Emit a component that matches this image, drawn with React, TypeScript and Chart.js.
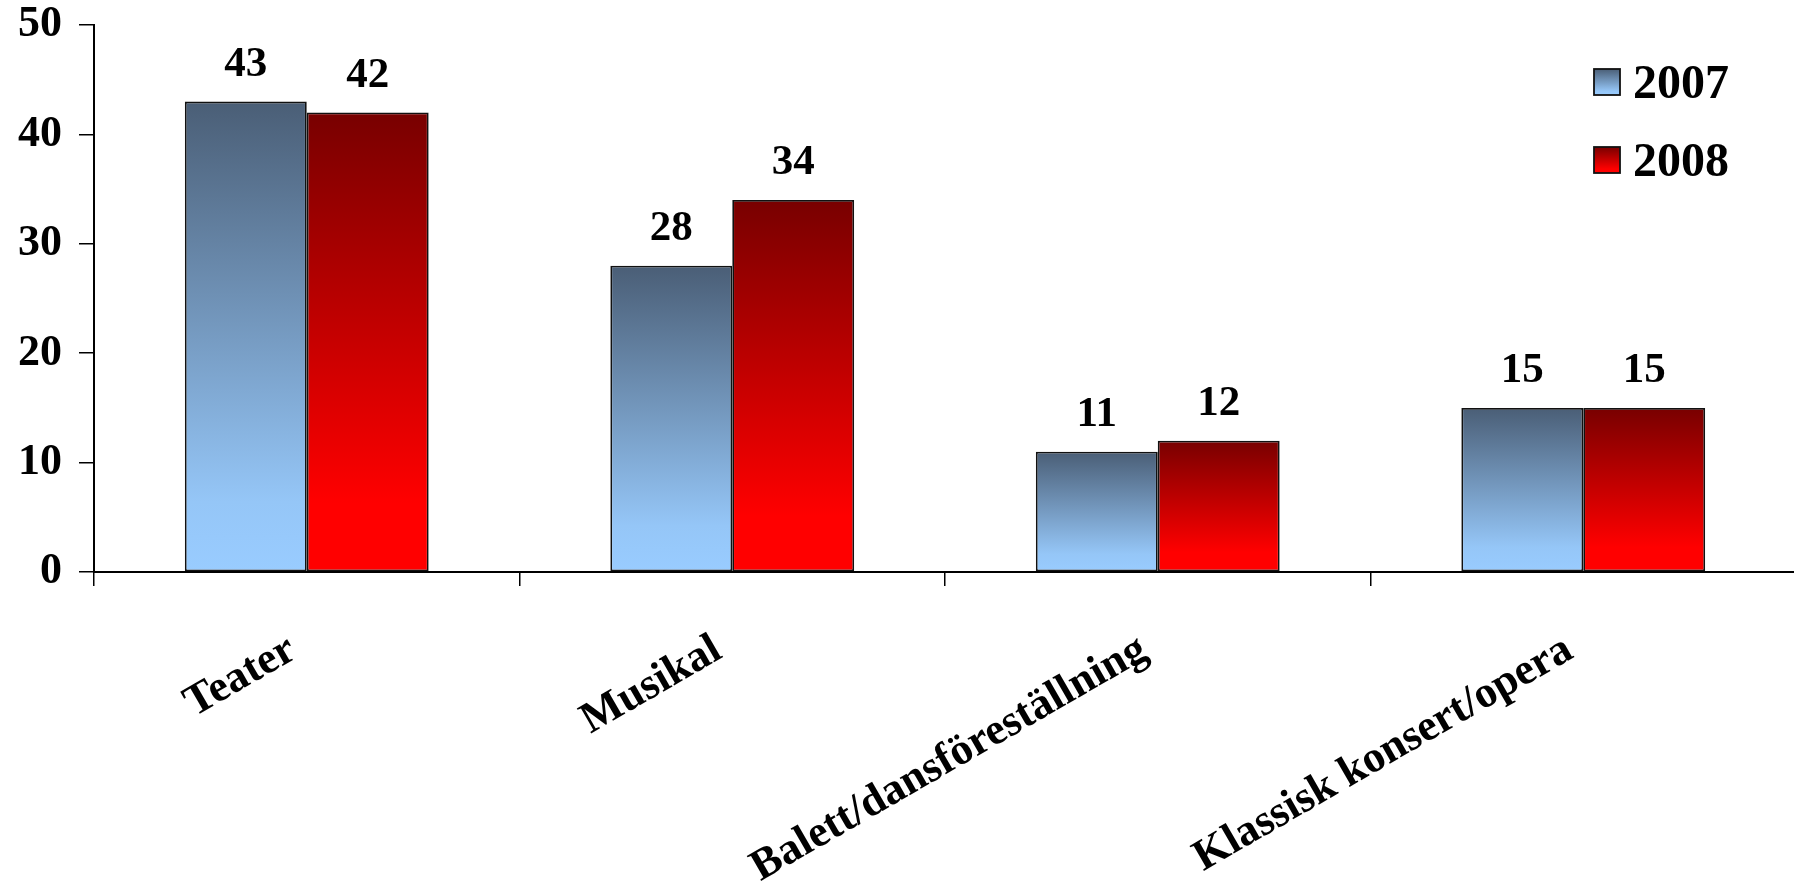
import React, { useEffect, useRef } from "react";
import { Chart, registerables } from "chart.js";

Chart.register(...registerables);

const categories = ["Teater", "Musikal", "Balett/dansföreställning", "Klassisk konsert/opera"];
const seriesNames = ["2007", "2008"];
const values2007 = [43, 28, 11, 15];
const values2008 = [42, 34, 12, 15];
const yMin = 0;
const yMax = 50;
const yStep = 10;

const FONT = "'Liberation Serif', 'Times New Roman', serif";
const blueStops: [number, string][] = [
  [0, "#4a5e76"],
  [0.85, "#95c6f7"],
  [1, "#99ccff"],
];
const redStops: [number, string][] = [
  [0, "#780000"],
  [0.85, "#ff0000"],
  [1, "#ff0000"],
];
const seriesStops = [blueStops, redStops];

function makeBg(stops: [number, string][]) {
  return (ctx: any) => {
    const chart = ctx.chart;
    const { chartArea, scales } = chart;
    if (!chartArea || !scales || !scales.y || ctx.type !== "data") return stops[stops.length - 1][1];
    const top = scales.y.getPixelForValue(ctx.raw);
    const bottom = scales.y.getPixelForValue(0);
    if (!isFinite(top) || !isFinite(bottom) || top === bottom) return stops[stops.length - 1][1];
    const g = chart.ctx.createLinearGradient(0, top, 0, bottom);
    stops.forEach(([o, c]) => g.addColorStop(o, c));
    return g;
  };
}

const dataLabelPlugin = {
  id: "dataLabels",
  afterDatasetsDraw(chart: any) {
    const ctx = chart.ctx;
    ctx.save();
    ctx.font = `bold 43px ${FONT}`;
    ctx.fillStyle = "#000";
    ctx.textAlign = "center";
    ctx.textBaseline = "alphabetic";
    chart.data.datasets.forEach((ds: any, i: number) => {
      const meta = chart.getDatasetMeta(i);
      meta.data.forEach((el: any, j: number) => {
        ctx.fillText(String(ds.data[j]), el.x, el.y - 26);
      });
    });
    ctx.restore();
  },
};

const legendPlugin = {
  id: "customLegend",
  afterDraw(chart: any) {
    const ctx = chart.ctx;
    ctx.save();
    const boxX = 1594;
    const boxSize = 26;
    const rows = [
      { boxY: 69, textY: 98 },
      { boxY: 147, textY: 176 },
    ];
    seriesNames.forEach((name, i) => {
      const r = rows[i];
      const g = ctx.createLinearGradient(0, r.boxY, 0, r.boxY + boxSize);
      seriesStops[i].forEach(([o, c]) => g.addColorStop(o, c));
      ctx.fillStyle = g;
      ctx.fillRect(boxX, r.boxY, boxSize, boxSize);
      ctx.lineWidth = 1.8;
      ctx.strokeStyle = "#111";
      ctx.strokeRect(boxX, r.boxY, boxSize, boxSize);
      ctx.font = `bold 48px ${FONT}`;
      ctx.fillStyle = "#000";
      ctx.textAlign = "left";
      ctx.textBaseline = "alphabetic";
      ctx.fillText(name, 1633, r.textY);
    });
    ctx.restore();
  },
};

export default function App() {
  const canvasRef = useRef<HTMLCanvasElement | null>(null);

  useEffect(() => {
    const canvas = canvasRef.current;
    if (!canvas) return;
    const chart = new Chart(canvas, {
      type: "bar",
      data: {
        labels: categories,
        datasets: [
          {
            label: seriesNames[0],
            data: values2007,
            backgroundColor: makeBg(blueStops),
            borderColor: "#111",
            borderWidth: 1.8,
            borderSkipped: false,
          },
          {
            label: seriesNames[1],
            data: values2008,
            backgroundColor: makeBg(redStops),
            borderColor: "#111",
            borderWidth: 1.8,
            borderSkipped: false,
          },
        ],
      },
      options: {
        responsive: false,
        animation: false,
        devicePixelRatio: 1,
        categoryPercentage: 0.573,
        barPercentage: 1,
        layout: { padding: { left: 0, top: 25, right: 4, bottom: 0 } },
        plugins: {
          legend: { display: false },
          tooltip: { enabled: false },
          title: { display: false },
        },
        scales: {
          x: {
            offset: true,
            grid: {
              display: true,
              offset: true,
              drawOnChartArea: false,
              drawTicks: true,
              tickLength: 14,
              color: "#000",
              lineWidth: 1.5,
            },
            border: { display: true, color: "#000", width: 2 },
            ticks: {
              autoSkip: false,
              minRotation: 30,
              maxRotation: 30,
              padding: 38,
              labelOffset: -14,
              color: "#000",
              font: { family: FONT, size: 44, weight: "bold" },
            },
            afterFit(scale: any) {
              scale.height = 309;
              scale.paddingLeft = 0;
              scale.paddingRight = 0;
            },
          },
          y: {
            min: yMin,
            max: yMax,
            grid: {
              display: true,
              drawOnChartArea: false,
              drawTicks: true,
              tickLength: 15,
              color: "#000",
              lineWidth: 1.5,
            },
            border: { display: true, color: "#000", width: 2 },
            ticks: {
              stepSize: yStep,
              padding: 17,
              color: "#000",
              font: { family: FONT, size: 44, weight: "bold" },
            },
            afterFit(scale: any) {
              scale.width = 94;
              scale.paddingTop = 0;
              scale.paddingBottom = 0;
            },
          },
        },
      },
      plugins: [dataLabelPlugin, legendPlugin],
    } as any);
    return () => chart.destroy();
  }, []);

  return (
    <div
      style={{
        position: "fixed",
        left: 0,
        top: 0,
        width: 1794,
        height: 881,
        overflow: "hidden",
        background: "#fff",
      }}
    >
      <canvas ref={canvasRef} width={1800} height={881} style={{ display: "block", width: 1800, height: 881 }} />
    </div>
  );
}
